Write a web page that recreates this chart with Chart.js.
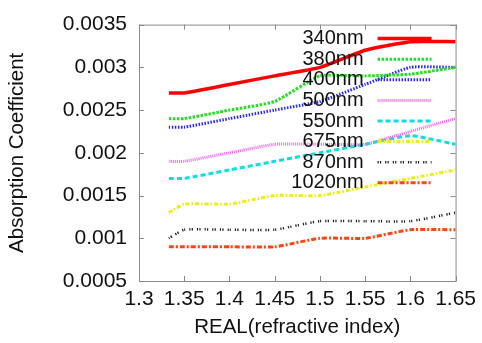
<!DOCTYPE html>
<html>
<head>
<meta charset="utf-8">
<script src="https://cdn.jsdelivr.net/npm/chart.js@4/dist/chart.umd.min.js"></script>
<style>
  html, body { margin: 0; padding: 0; background: #fff; }
  #wrap { width: 482px; height: 343px; }
</style>
</head>
<body>
<div id="wrap"><canvas id="absChart" width="482" height="343"></canvas></div>
<script>
// refractive index (real part) sampled for each wavelength
const realIndex = [1.333, 1.35, 1.4, 1.45, 1.5, 1.55, 1.6, 1.65];

const wavelengths = ['340nm', '380nm', '400nm', '500nm', '550nm', '675nm', '870nm', '1020nm'];

const abs340 = [0.0027, 0.0027, 0.0028, 0.0029, 0.0030, 0.0032, 0.0033, 0.0033];
const abs380 = [0.0024, 0.0024, 0.0025, 0.0026, 0.0029, 0.0029, 0.00292, 0.0030];
const abs400 = [0.0023, 0.0023, 0.0024, 0.0025, 0.0026, 0.0028, 0.0030, 0.0030];
const abs500 = [0.0019, 0.0019, 0.0020, 0.0021, 0.0021, 0.0021, 0.00225, 0.0024];
const abs550 = [0.0017, 0.0017, 0.0018, 0.0019, 0.0020, 0.0021, 0.0022, 0.0021];
const abs675 = [0.0013, 0.0014, 0.0014, 0.0015, 0.0015, 0.0016, 0.0017, 0.0018];
const abs870 = [0.0010, 0.0011, 0.0011, 0.0011, 0.0012, 0.0012, 0.0012, 0.0013];
const abs1020 = [0.0009, 0.0009, 0.0009, 0.0009, 0.0010, 0.0010, 0.0011, 0.0011];

const xTicks = [1.3, 1.35, 1.4, 1.45, 1.5, 1.55, 1.6, 1.65];
const yTicks = [0.0005, 0.001, 0.0015, 0.002, 0.0025, 0.003, 0.0035];

const series = [abs340, abs380, abs400, abs500, abs550, abs675, abs870, abs1020];
const styles = [
  { color: '#ff0000', width: 3.5, dash: [] },
  { color: '#22dd22', width: 3, dash: [2.5, 1.5] },
  { color: '#2a2add', width: 3, dash: [1.5, 1.5] },
  { color: '#ee66ee', width: 3, dash: [1, 1] },
  { color: '#11dddd', width: 3, dash: [5, 3] },
  { color: '#eeee11', width: 3, dash: [4, 2, 1.5, 2] },
  { color: '#222222', width: 2.5, dash: [1.2, 1.2, 1.2, 4] },
  { color: '#ff4411', width: 3, dash: [5, 2, 2, 2] }
];

const FONT = '"Liberation Sans", Arial, sans-serif';

// gnuplot-like frame with inward ticks on all four sides, plus the key
const framePlugin = {
  id: 'frameAndKey',
  afterDatasetsDraw(chart) {
    const { ctx, chartArea: a, scales } = chart;
    ctx.save();
    ctx.strokeStyle = '#8a8a8a';
    ctx.lineWidth = 1;
    ctx.strokeRect(a.left + 0.5, a.top + 0.5, a.right - a.left, a.bottom - a.top);
    ctx.beginPath();
    xTicks.forEach(v => {
      const x = Math.round(scales.x.getPixelForValue(v)) + 0.5;
      ctx.moveTo(x, a.bottom); ctx.lineTo(x, a.bottom - 5);
      ctx.moveTo(x, a.top); ctx.lineTo(x, a.top + 5);
    });
    yTicks.forEach(v => {
      const y = Math.round(scales.y.getPixelForValue(v)) + 0.5;
      ctx.moveTo(a.left, y); ctx.lineTo(a.left + 5, y);
      ctx.moveTo(a.right, y); ctx.lineTo(a.right - 5, y);
    });
    ctx.stroke();

    // key
    ctx.font = '20px ' + FONT;
    ctx.textAlign = 'right';
    ctx.textBaseline = 'middle';
    chart.data.datasets.forEach((ds, i) => {
      const y = a.top + 14 + i * 20.6;
      ctx.fillStyle = '#111';
      ctx.fillText(ds.label, a.right - 92, y);
      ctx.strokeStyle = ds.borderColor;
      ctx.lineWidth = ds.borderWidth;
      ctx.setLineDash(ds.borderDash);
      ctx.beginPath();
      ctx.moveTo(a.right - 78, y);
      ctx.lineTo(a.right - 24, y);
      ctx.stroke();
    });
    ctx.restore();
  }
};

new Chart(document.getElementById('absChart').getContext('2d'), {
  type: 'line',
  data: {
    datasets: wavelengths.map((name, i) => ({
      label: name,
      data: realIndex.map((x, j) => ({ x, y: series[i][j] })),
      borderColor: styles[i].color,
      borderWidth: styles[i].width,
      borderDash: styles[i].dash,
      pointRadius: 0,
      tension: 0.15,
      fill: false
    }))
  },
  options: {
    responsive: false,
    animation: false,
    layout: { padding: { top: 20, right: 25, left: 0, bottom: 0 } },
    plugins: { legend: { display: false }, tooltip: { enabled: false } },
    scales: {
      x: {
        type: 'linear',
        min: 1.3,
        max: 1.65,
        afterFit: s => { s.height = 62; },
        afterBuildTicks: s => { s.ticks = xTicks.map(value => ({ value })); },
        grid: { display: false, drawTicks: false },
        border: { display: false },
        ticks: {
          padding: 6,
          color: '#111',
          font: { family: FONT, size: 21 },
          maxRotation: 0,
          autoSkip: false,
          callback: v => String(+v.toFixed(2))
        },
        title: {
          display: true,
          text: 'REAL(refractive index)',
          color: '#111',
          font: { family: FONT, size: 20.5 },
          padding: { top: 0, bottom: 3 }
        }
      },
      y: {
        min: 0.0005,
        max: 0.0035,
        afterFit: s => { s.width = 139; },
        afterBuildTicks: s => { s.ticks = yTicks.map(value => ({ value })); },
        grid: { display: false, drawTicks: false },
        border: { display: false },
        ticks: {
          padding: 12,
          color: '#111',
          font: { family: FONT, size: 21 },
          autoSkip: false,
          callback: v => String(+v.toFixed(4))
        },
        title: {
          display: true,
          text: 'Absorption Coefficient',
          color: '#111',
          font: { family: FONT, size: 20.5 },
          padding: { top: 5, bottom: 0 }
        }
      }
    }
  },
  plugins: [framePlugin]
});
</script>
</body>
</html>
